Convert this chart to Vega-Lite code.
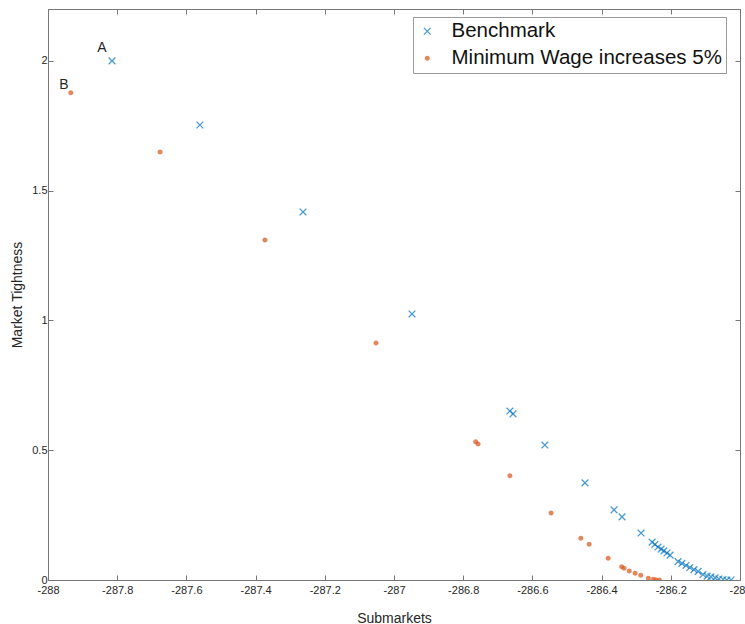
{
  "$schema": "https://vega.github.io/schema/vega-lite/v6.json",
  "width": 692,
  "height": 571,
  "autosize": {"type": "none"},
  "padding": {"left": 48, "top": 9, "right": 5, "bottom": 44},
  "background": "white",
  "config": {
    "font": "Liberation Sans",
    "view": {"stroke": "#666", "strokeWidth": 1},
    "axis": {
      "domainColor": "#777",
      "tickColor": "#777",
      "tickSize": -5,
      "labelColor": "#262626",
      "labelFontSize": 11,
      "titleColor": "#262626",
      "titleFontSize": 14,
      "titleFontWeight": "normal",
      "grid": false
    }
  },
  "datasets": {
    "pts": [
      {"x": -287.815, "y": 2.000, "series": "Benchmark"},
      {"x": -287.561, "y": 1.753, "series": "Benchmark"},
      {"x": -287.263, "y": 1.418, "series": "Benchmark"},
      {"x": -286.948, "y": 1.025, "series": "Benchmark"},
      {"x": -286.665, "y": 0.651, "series": "Benchmark"},
      {"x": -286.656, "y": 0.640, "series": "Benchmark"},
      {"x": -286.564, "y": 0.520, "series": "Benchmark"},
      {"x": -286.448, "y": 0.374, "series": "Benchmark"},
      {"x": -286.364, "y": 0.270, "series": "Benchmark"},
      {"x": -286.341, "y": 0.243, "series": "Benchmark"},
      {"x": -286.286, "y": 0.181, "series": "Benchmark"},
      {"x": -286.254, "y": 0.146, "series": "Benchmark"},
      {"x": -286.246, "y": 0.137, "series": "Benchmark"},
      {"x": -286.237, "y": 0.127, "series": "Benchmark"},
      {"x": -286.228, "y": 0.119, "series": "Benchmark"},
      {"x": -286.220, "y": 0.112, "series": "Benchmark"},
      {"x": -286.211, "y": 0.104, "series": "Benchmark"},
      {"x": -286.202, "y": 0.096, "series": "Benchmark"},
      {"x": -286.179, "y": 0.071, "series": "Benchmark"},
      {"x": -286.168, "y": 0.064, "series": "Benchmark"},
      {"x": -286.156, "y": 0.056, "series": "Benchmark"},
      {"x": -286.145, "y": 0.048, "series": "Benchmark"},
      {"x": -286.133, "y": 0.040, "series": "Benchmark"},
      {"x": -286.121, "y": 0.033, "series": "Benchmark"},
      {"x": -286.107, "y": 0.021, "series": "Benchmark"},
      {"x": -286.095, "y": 0.015, "series": "Benchmark"},
      {"x": -286.084, "y": 0.012, "series": "Benchmark"},
      {"x": -286.072, "y": 0.008, "series": "Benchmark"},
      {"x": -286.061, "y": 0.004, "series": "Benchmark"},
      {"x": -286.049, "y": 0.002, "series": "Benchmark"},
      {"x": -286.038, "y": 0.000, "series": "Benchmark"},
      {"x": -286.026, "y": 0.000, "series": "Benchmark"},
      {"x": -287.934, "y": 1.877, "series": "Minimum Wage increases 5%"},
      {"x": -287.676, "y": 1.649, "series": "Minimum Wage increases 5%"},
      {"x": -287.373, "y": 1.310, "series": "Minimum Wage increases 5%"},
      {"x": -287.052, "y": 0.913, "series": "Minimum Wage increases 5%"},
      {"x": -286.764, "y": 0.533, "series": "Minimum Wage increases 5%"},
      {"x": -286.757, "y": 0.524, "series": "Minimum Wage increases 5%"},
      {"x": -286.665, "y": 0.402, "series": "Minimum Wage increases 5%"},
      {"x": -286.546, "y": 0.258, "series": "Minimum Wage increases 5%"},
      {"x": -286.460, "y": 0.161, "series": "Minimum Wage increases 5%"},
      {"x": -286.436, "y": 0.138, "series": "Minimum Wage increases 5%"},
      {"x": -286.381, "y": 0.084, "series": "Minimum Wage increases 5%"},
      {"x": -286.342, "y": 0.051, "series": "Minimum Wage increases 5%"},
      {"x": -286.335, "y": 0.045, "series": "Minimum Wage increases 5%"},
      {"x": -286.320, "y": 0.035, "series": "Minimum Wage increases 5%"},
      {"x": -286.303, "y": 0.026, "series": "Minimum Wage increases 5%"},
      {"x": -286.287, "y": 0.018, "series": "Minimum Wage increases 5%"},
      {"x": -286.265, "y": 0.007, "series": "Minimum Wage increases 5%"},
      {"x": -286.251, "y": 0.003, "series": "Minimum Wage increases 5%"},
      {"x": -286.243, "y": 0.001, "series": "Minimum Wage increases 5%"},
      {"x": -286.233, "y": 0.000, "series": "Minimum Wage increases 5%"}
    ],
    "labels": [
      {"x": -287.844, "y": 2.050, "label": "A"},
      {"x": -287.954, "y": 1.908, "label": "B"}
    ]
  },
  "resolve": {"axis": {"x": "independent", "y": "independent"}},
  "layer": [
    {
      "data": {"name": "pts"},
      "mark": {"type": "point", "filled": false, "strokeWidth": 1.3, "size": 45, "clip": true},
      "encoding": {
        "x": {
          "field": "x", "type": "quantitative",
          "scale": {"domain": [-288, -286], "nice": false, "zero": false},
          "axis": {"title": "Submarkets", "values": [-288, -287.8, -287.6, -287.4, -287.2, -287, -286.8, -286.6, -286.4, -286.2, -286], "labelExpr": "'' + datum.value", "labelPadding": 9, "titlePadding": 16, "labelFlush": false}
        },
        "y": {
          "field": "y", "type": "quantitative",
          "scale": {"domain": [0, 2.2], "nice": false},
          "axis": {"title": "Market Tightness", "values": [0, 0.5, 1, 1.5, 2], "labelExpr": "'' + datum.value", "labelPadding": 6, "titlePadding": 7}
        },
        "color": {
          "field": "series", "type": "nominal",
          "scale": {"domain": ["Benchmark", "Minimum Wage increases 5%"], "range": ["#0072BD", "#D95319"]},
          "legend": {
            "title": null,
            "orient": "none",
            "legendX": 365,
            "legendY": 8,
            "direction": "vertical",
            "strokeColor": "#999",
            "fillColor": "white",
            "padding": 4,
            "labelFontSize": 20.5,
            "labelColor": "#111",
            "labelLimit": 400,
            "symbolSize": 18,
            "symbolStrokeWidth": 1.5,
            "rowPadding": 6,
            "labelOffset": 14,
            "offset": 0
          }
        },
        "shape": {
          "field": "series", "type": "nominal",
          "scale": {"domain": ["Benchmark", "Minimum Wage increases 5%"], "range": ["M-1,-1L1,1M1,-1L-1,1", "circle"]}
        },
        "size": {
          "field": "series", "type": "nominal",
          "scale": {"domain": ["Benchmark", "Minimum Wage increases 5%"], "range": [45, 6]},
          "legend": null
        },
        "strokeWidth": {
          "field": "series", "type": "nominal",
          "scale": {"domain": ["Benchmark", "Minimum Wage increases 5%"], "range": [1.3, 2.6]},
          "legend": null
        }
      }
    },
    {
      "data": {"name": "labels"},
      "mark": {"type": "text", "fontSize": 14, "color": "#262626", "font": "Liberation Sans"},
      "encoding": {
        "x": {
          "field": "x", "type": "quantitative",
          "axis": {"orient": "top", "labels": false, "title": null, "values": [-288, -287.8, -287.6, -287.4, -287.2, -287, -286.8, -286.6, -286.4, -286.2, -286]}
        },
        "y": {
          "field": "y", "type": "quantitative",
          "axis": {"orient": "right", "labels": false, "title": null, "values": [0, 0.5, 1, 1.5, 2]}
        },
        "text": {"field": "label"}
      }
    }
  ]
}
